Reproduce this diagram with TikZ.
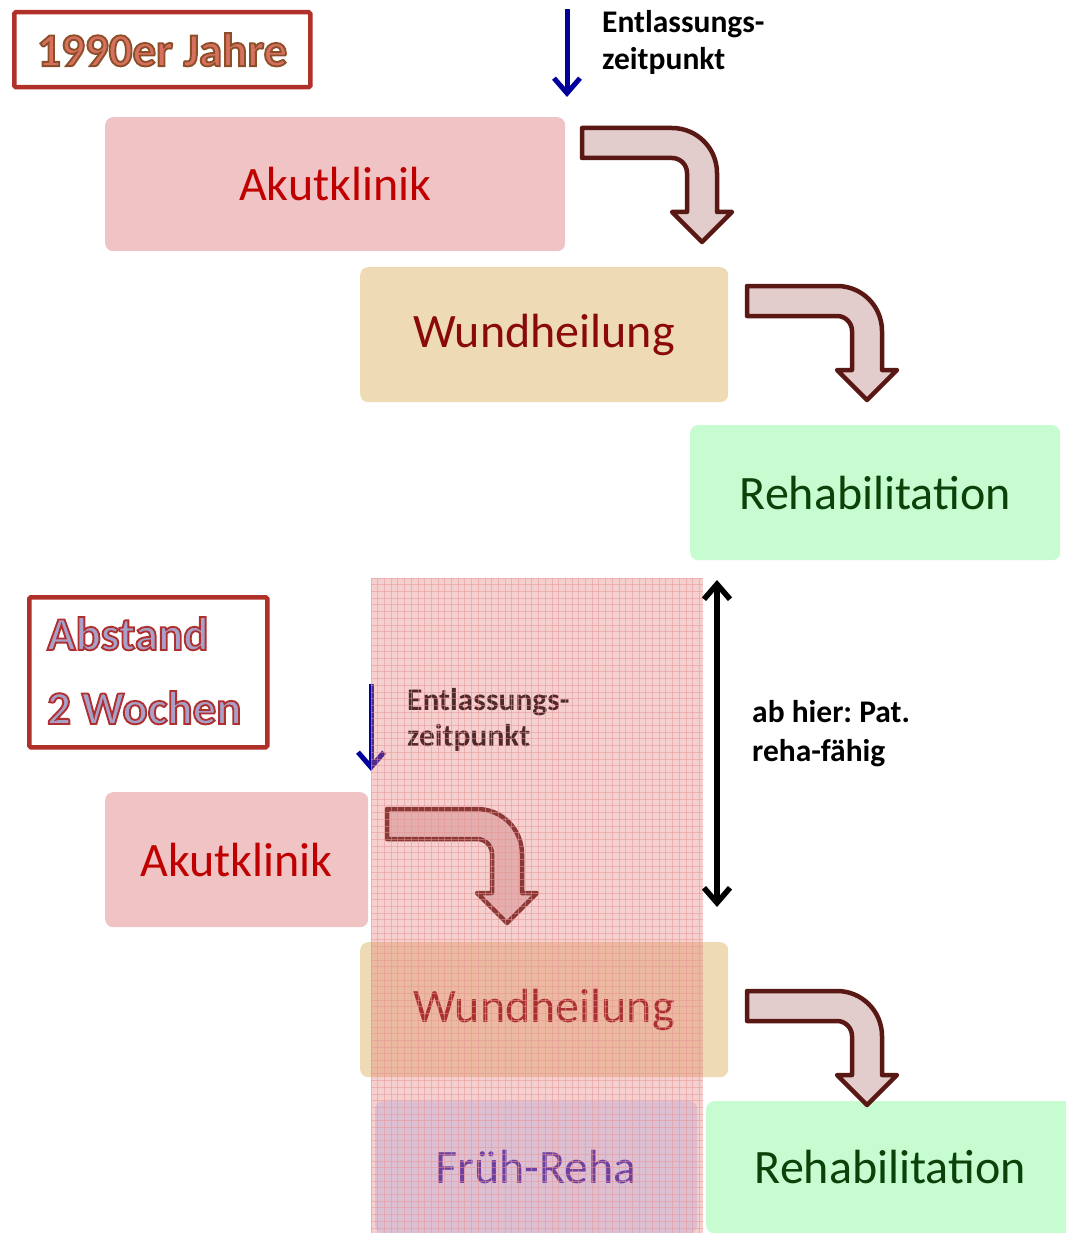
\documentclass[tikz,border=0pt]{standalone}
\usepackage{fontspec}
\setmainfont{Carlito}
\newfontfamily\outlfont[FakeBold=4]{Carlito Bold}
\usetikzlibrary{arrows.meta}
\definecolor{akutfill}{HTML}{F0C4C4}
\definecolor{akuttext}{HTML}{C00000}
\definecolor{wundfill}{HTML}{EEDBB6}
\definecolor{wundtext}{HTML}{8A0A0A}
\definecolor{rehafill}{HTML}{C6FCD0}
\definecolor{rehatext}{HTML}{0A420A}
\definecolor{fruehfill}{HTML}{B8A8DC}
\definecolor{fruehtext}{HTML}{7040A0}
\definecolor{bentfill}{HTML}{E3CCCC}
\definecolor{bentdraw}{HTML}{5A1814}
\definecolor{titlered}{HTML}{B0302A}
\definecolor{arrowblue}{HTML}{00009A}
\definecolor{overlaypink}{HTML}{E87878}
\definecolor{gridpink}{HTML}{E89494}
% outlined text: fill colour, then stroke colour
\newcommand{\jahrtext}[1]{\special{pdf:bcolor [0.847 0.439 0.376] [0.549 0.314 0.157]}#1\special{pdf:ecolor}}
\newcommand{\absttext}[1]{\special{pdf:bcolor [0.659 0.627 0.784] [0.690 0.188 0.188]}#1\special{pdf:ecolor}}
\frenchspacing
\begin{document}
\begin{tikzpicture}[x=1pt,y=-1pt,
  box/.style={rounded corners=8pt, anchor=north west, inner sep=0pt,
    font=\fontsize{48}{56}\selectfont},
  framebox/.style={draw=titlered, line width=4.5pt, rounded corners=1.5pt,
    anchor=north west, inner sep=0pt},
  lbl/.style={anchor=base west, inner sep=0pt, font=\bfseries\fontsize{31.5}{36}\selectfont},
  bigout/.style={anchor=base west, inner sep=0pt, font=\outlfont\fontsize{47}{54}\selectfont},
  bluearrow/.style={draw=arrowblue, line width=5pt,
    -{Straight Barb[length=15pt,width=26pt,line width=5pt]}},
  bentstyle/.style={fill=bentfill, draw=bentdraw, line width=4.5pt, line join=round},
  bent/.pic={
    \path[bentstyle] (0,0) -- (90,0)
      .. controls (114.85,0) and (135,20.15) .. (135,45)
      -- (135,84) -- (150,84) -- (120,114) -- (90,84) -- (105,84) -- (105,45)
      .. controls (105,36.72) and (98.28,30) .. (90,30)
      -- (0,30) -- cycle;
  }]
\useasboundingbox (0,0) rectangle (1065,1233);
\fill[white] (0,0) rectangle (1065,1233);

% ---------- 1990er Jahre ----------
\node[framebox, minimum width=296pt, minimum height=75pt] (title1) at (12,10) {};
\node[inner sep=0pt, font=\outlfont\fontsize{47}{54}\selectfont] (title1txt) at (title1.center)
  {\jahrtext{1990er Jahre}};

\coordinate (b1s) at (567,9);
\coordinate (b1e) at (567,97);
\draw[bluearrow] (b1s) -- (b1e);
\node[lbl] (ent1a) at (602,33) {Entlassungs-};
\node[lbl] (ent1b) at (602,70) {zeitpunkt};

\node[box, fill=akutfill, text=akuttext, minimum width=460pt, minimum height=134pt] (akut1) at (105,117) {Akutklinik};
\node[box, fill=wundfill, text=wundtext, minimum width=368pt, minimum height=135pt] (wund1) at (360,267) {Wundheilung};
\node[box, fill=rehafill, text=rehatext, minimum width=370pt, minimum height=135pt] (reha1) at (690,425) {Rehabilitation};

\pic at (582,128) {bent};
\pic at (747,286) {bent};

% ---------- 2 Wochen ----------
\node[framebox, minimum width=238pt, minimum height=150pt] (title2) at (27,595) {};
\node[bigout] (abst1) at (47,650) {\absttext{Abstand}};
\node[bigout] (abst2) at (47,724) {\absttext{2 Wochen}};

\node[box, fill=akutfill, text=akuttext, minimum width=263pt, minimum height=135pt] (akut2) at (105,792) {Akutklinik};
\node[box, fill=wundfill, text=wundtext, minimum width=368pt, minimum height=135pt] (wund2) at (360,942) {Wundheilung};
\node[box, fill=rehafill, text=rehatext, minimum width=368pt, minimum height=132pt] (reha2) at (706,1101) {Rehabilitation};

\coordinate (b2s) at (371,684);
\coordinate (b2e) at (371,771);
\draw[bluearrow] (b2s) -- (b2e);
\node[lbl] (ent2a) at (407,710) {Entlassungs-};
\node[lbl] (ent2b) at (407,746) {zeitpunkt};

\pic at (387,809) {bent};
\pic at (747,991) {bent};

% ---------- shaded period ----------
\fill[overlaypink, opacity=0.35] (371,578) rectangle (703,1233);
\node[box, fill=fruehfill, fill opacity=0.4, text opacity=1, text=fruehtext, minimum width=322pt, minimum height=132pt] (frueh) at (375,1101) {Früh-Reha};
\begin{scope}
  \clip (371,578) rectangle (703,1233);
  \foreach \i in {0,...,49} \draw[gridpink, line width=0.7pt, opacity=0.5] (371+\i*6.7,578) -- (371+\i*6.7,1233);
  \foreach \j in {0,...,98} \draw[gridpink, line width=0.7pt, opacity=0.5] (371,578+\j*6.7) -- (703,578+\j*6.7);
\end{scope}

% ---------- double arrow ----------
\coordinate (dtop) at (717,580);
\coordinate (dbot) at (717,907);
\draw[line width=5.5pt, {Straight Barb[length=15pt,width=26pt,line width=5.5pt]}-{Straight Barb[length=15pt,width=26pt,line width=5.5pt]}] (dtop) -- (dbot);
\node[lbl] (ab1) at (752,722) {ab hier: Pat.};
\node[lbl] (ab2) at (752,761) {reha-fähig};
\end{tikzpicture}
\end{document}
